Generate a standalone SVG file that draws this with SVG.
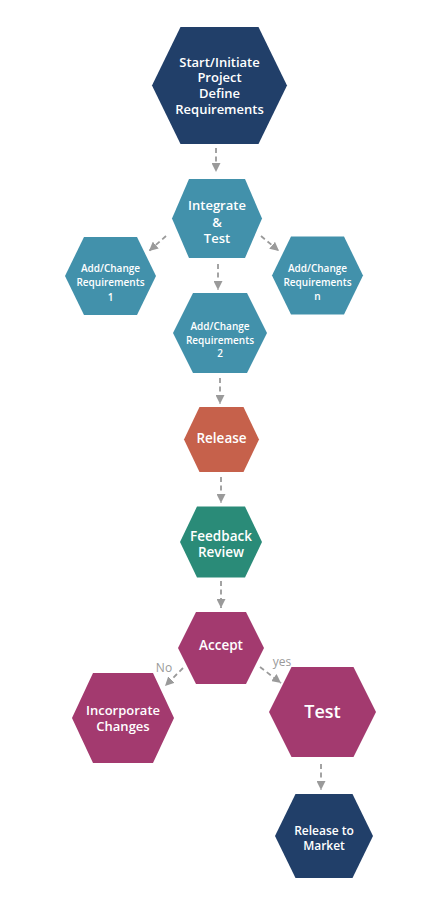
<svg xmlns="http://www.w3.org/2000/svg" width="424" height="907" viewBox="0 0 424 907">
<defs>
<marker id="ah" viewBox="0 0 10 10" refX="10" refY="5" markerWidth="9" markerHeight="9" markerUnits="userSpaceOnUse" orient="auto">
<path d="M0,0 L10,5 L0,10 z" fill="#9a9a9a"/>
</marker>
</defs>
<style>
.c{stroke:#9a9a9a;stroke-width:1.8;stroke-dasharray:5 3.5;fill:none;marker-end:url(#ah)}
text{font-family:"Open Sans","Noto Sans","Liberation Sans",sans-serif;fill:#fff;text-anchor:middle;font-weight:600}
.navy{fill:#213f69}
.blue{fill:#4291ab}
.orange{fill:#c6614b}
.green{fill:#2a8b78}
.mag{fill:#a33a6f}
.lbl{fill:#9a9a9a;font-size:12px;font-weight:400}
</style>
<rect width="424" height="907" fill="#fff"/>
<g id="connectors">
<line class="c" x1="216" y1="148" x2="216" y2="172"/>
<line class="c" x1="166" y1="236" x2="149" y2="251"/>
<line class="c" x1="261" y1="236" x2="279" y2="251"/>
<line class="c" x1="218" y1="264" x2="218" y2="290"/>
<line class="c" x1="220" y1="378" x2="220" y2="404"/>
<line class="c" x1="221" y1="477" x2="221" y2="503"/>
<line class="c" x1="221" y1="581" x2="221" y2="608"/>
<line class="c" x1="183" y1="668" x2="165" y2="686"/>
<line class="c" x1="260" y1="667" x2="281" y2="683"/>
<line class="c" x1="321" y1="764" x2="321" y2="790"/>
<text class="lbl" x="164" y="672">No</text>
<text class="lbl" x="282" y="666">yes</text>
</g>
<g id="start">
<polygon class="navy" points="152,85.5 180.5,27 258.5,27 287,85.5 258.5,144 180.5,144"/>
<text x="219.5" y="66.5" font-size="13">Start/Initiate</text>
<text x="219.5" y="82" font-size="13">Project</text>
<text x="219.5" y="98" font-size="13">Define</text>
<text x="219.5" y="114" font-size="13">Requirements</text>
</g>
<g id="integrate">
<polygon class="blue" points="172,218.5 189,179 245,179 262,218.5 245,258 189,258"/>
<text x="217" y="210" font-size="13">Integrate</text>
<text x="217" y="226.5" font-size="13">&amp;</text>
<text x="217" y="243" font-size="13">Test</text>
</g>
<g id="ac1">
<polygon class="blue" points="65,276 84,237 137,237 156,276 137,315 84,315"/>
<text x="110.5" y="272" font-size="10">Add/Change</text>
<text x="110.5" y="286" font-size="10">Requirements</text>
<text x="110.5" y="300.5" font-size="10">1</text>
</g>
<g id="acn">
<polygon class="blue" points="272,275.5 291,236.5 344,236.5 363,275.5 344,314.5 291,314.5"/>
<text x="317.5" y="272" font-size="10">Add/Change</text>
<text x="317.5" y="286" font-size="10">Requirements</text>
<text x="317.5" y="300" font-size="10">n</text>
</g>
<g id="ac2">
<polygon class="blue" points="173,333 193,293 247,293 267,333 247,373 193,373"/>
<text x="220" y="330" font-size="10">Add/Change</text>
<text x="220" y="343.5" font-size="10">Requirements</text>
<text x="220" y="357" font-size="10">2</text>
</g>
<g id="release">
<polygon class="orange" points="184,439.5 199.5,407 243.5,407 259,439.5 243.5,472 199.5,472"/>
<text x="221.5" y="443" font-size="13.5">Release</text>
</g>
<g id="feedback">
<polygon class="green" points="180,542 197,506.5 245,506.5 262,542 245,577.5 197,577.5"/>
<text x="221" y="541" font-size="13.5">Feedback</text>
<text x="221" y="557" font-size="13.5">Review</text>
</g>
<g id="accept">
<polygon class="mag" points="178,648 196,612 246,612 264,648 246,684 196,684"/>
<text x="221" y="650" font-size="13.5">Accept</text>
</g>
<g id="incorporate">
<polygon class="mag" points="72,718 93,673 153,673 174,718 153,763 93,763"/>
<text x="123" y="715" font-size="13">Incorporate</text>
<text x="123" y="731" font-size="13">Changes</text>
</g>
<g id="test">
<polygon class="mag" points="269,712 291.5,667 353.5,667 376,712 353.5,757 291.5,757"/>
<text x="322.5" y="718" font-size="18">Test</text>
</g>
<g id="market">
<polygon class="navy" points="275,836 295.5,794 352.5,794 373,836 352.5,878 295.5,878"/>
<text x="324" y="835" font-size="12">Release to</text>
<text x="324" y="850" font-size="12">Market</text>
</g>
</svg>
